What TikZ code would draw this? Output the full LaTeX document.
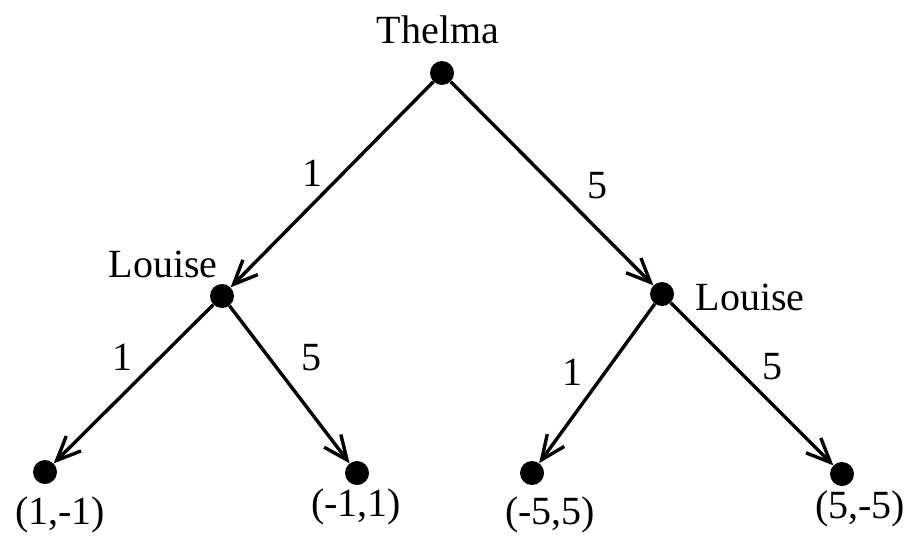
\documentclass[tikz,border=0pt]{standalone}
\usepackage{fontspec}
\setmainfont{Liberation Serif}
\usetikzlibrary{arrows.meta}
\begin{document}
\begin{tikzpicture}[x=1pt,y=-1pt,
  dot/.style={circle,fill=black,inner sep=0pt,minimum size=24pt},
  txt/.style={font=\fontsize{40}{42}\selectfont,inner sep=0pt},
  move/.style={line width=3.4pt,-{Straight Barb[length=24pt,width=21pt,line width=3.4pt]}}]
\useasboundingbox (0,0) rectangle (909,538);
\node[dot] (t) at (442,73) {};
\node[dot] (l1) at (222,296) {};
\node[dot] (l2) at (662,294) {};
\node[dot] (a) at (45,472) {};
\node[dot] (b) at (357,473) {};
\node[dot] (c) at (532,473) {};
\node[dot] (d) at (842,474) {};
\node[txt] (tn) at (438,30) {Thelma};
\node[txt] (ln1) at (163,264) {Louise};
\node[txt] (ln2) at (750,297) {Louise};
\draw[move] (t) -- (l1);
\draw[move] (t) -- (l2);
\draw[move] (l1) -- (a);
\draw[move] (l1) -- (b);
\draw[move] (l2) -- (c);
\draw[move] (l2) -- (d);
\node[txt] (m1) at (312,173) {1};
\node[txt] (m2) at (597,186) {5};
\node[txt] (m3) at (122,357) {1};
\node[txt] (m4) at (311,358) {5};
\node[txt] (m5) at (572,372) {1};
\node[txt] (m6) at (772,367) {5};
\node[txt] (pa) at (60,515) {(1,-1)};
\node[txt] (pb) at (356,507) {(-1,1)};
\node[txt] (pc) at (550,515) {(-5,5)};
\node[txt] (pd) at (860,509) {(5,-5)};
\end{tikzpicture}
\end{document}
